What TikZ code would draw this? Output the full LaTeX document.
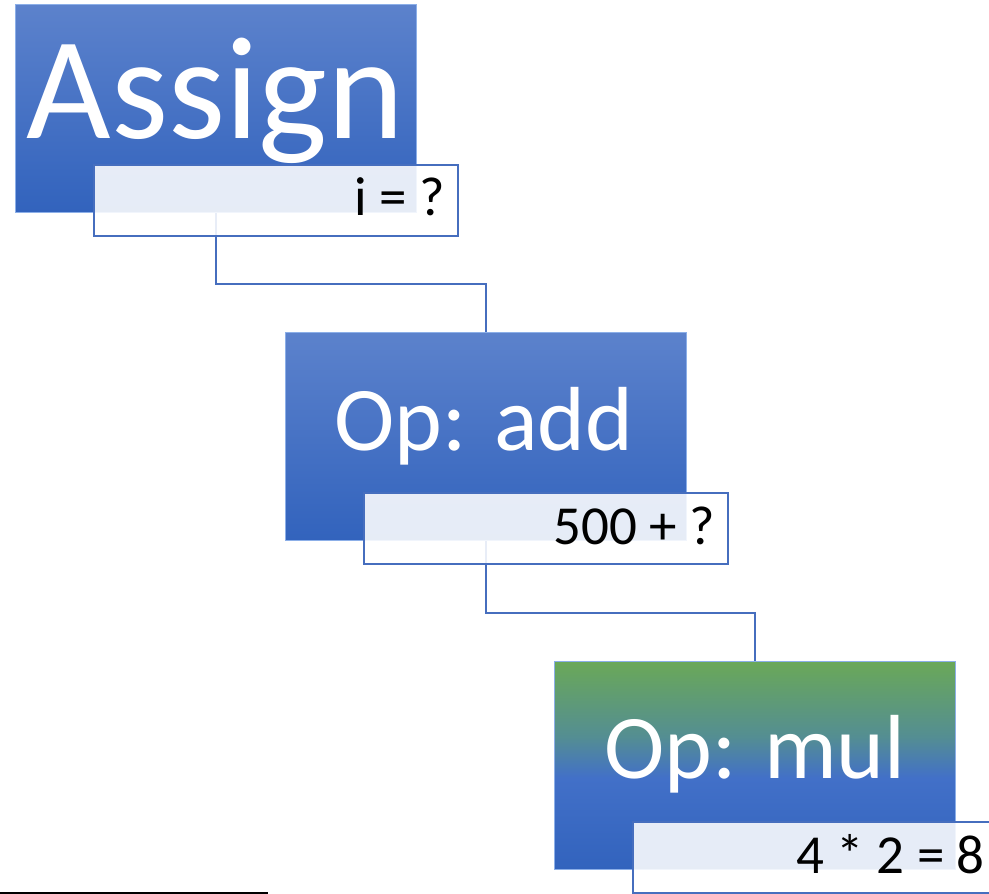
\documentclass[tikz,border=0pt]{standalone}
\usepackage{fontspec}
\setmainfont{Carlito}
\usetikzlibrary{backgrounds}
\definecolor{boxtop}{RGB}{92,130,204}
\definecolor{boxbot}{RGB}{50,99,189}
\definecolor{boxedge}{RGB}{140,175,232}
\definecolor{greentop}{RGB}{106,168,88}
\definecolor{greenteal}{RGB}{84,142,146}
\definecolor{greenmid}{RGB}{66,112,200}
\definecolor{lineblue}{RGB}{70,110,190}
\pgfdeclareverticalshading{greenfade}{100bp}{color(0bp)=(boxbot); color(25bp)=(boxbot);
  color(47bp)=(greenmid); color(57bp)=(greenteal); color(75bp)=(greentop); color(100bp)=(greentop)}
\begin{document}
\begin{tikzpicture}[x=1pt,y=-1pt,
    box/.style={rectangle,draw=boxedge,line width=1pt,top color=boxtop,bottom color=boxbot,
        minimum width=401pt,minimum height=208pt,inner sep=0pt},
    greenbox/.style={box,shading=greenfade},
    tag/.style={rectangle,draw=lineblue,line width=1.5pt,fill=white,fill opacity=0.88,
        minimum width=364pt,minimum height=71pt,inner sep=0pt},
    bigtxt/.style={anchor=base,text=white,inner sep=0pt,font=\fontsize{146}{150}\selectfont},
    optxt/.style={anchor=base,text=white,inner sep=0pt,font=\fontsize{91}{95}\selectfont},
    tagtxt/.style={anchor=base east,text=black,inner sep=0pt,font=\fontsize{55}{60}\selectfont},
    link/.style={draw=lineblue,line width=2pt}]
  \useasboundingbox (0,0) rectangle (989,894);
  % boxes
  \node[box] (assign) at (215.5,108) {};
  \node[box] (add) at (485.5,436.5) {};
  \node[greenbox] (mul) at (755,765.5) {};
  \node[bigtxt] (assigntxt) at (215.5,138) {Assign};
  \node[optxt] (addtxt) at (484,450) {Op: add};
  \node[optxt] (multxt) at (755,778) {Op: mul};
  % value tags
  \node[tag] (assigntag) at (276,200.5) {};
  \node[tag] (addtag) at (546,528.5) {};
  \node[tag] (multag) at (815,857.5) {};
  \node[tagtxt] (assignval) at (445,215) {i = ?};
  \node[tagtxt] (addval) at (715,544) {500 + ?};
  \node[tagtxt] (mulval) at (985,873) {4 * 2 = 8};
  % links
  \coordinate (e1) at (350,284);
  \coordinate (e2) at (620,613);
  \begin{scope}[on background layer]
    \draw[link] (assign.south) |- (e1) -| (add.north);
    \draw[link] (add.south) |- (e2) -| (mul.north);
  \end{scope}
  % rule
  \coordinate (r1) at (0,893);
  \coordinate (r2) at (268,893);
  \draw[line width=2.5pt] (r1) -- (r2);
\end{tikzpicture}
\end{document}
